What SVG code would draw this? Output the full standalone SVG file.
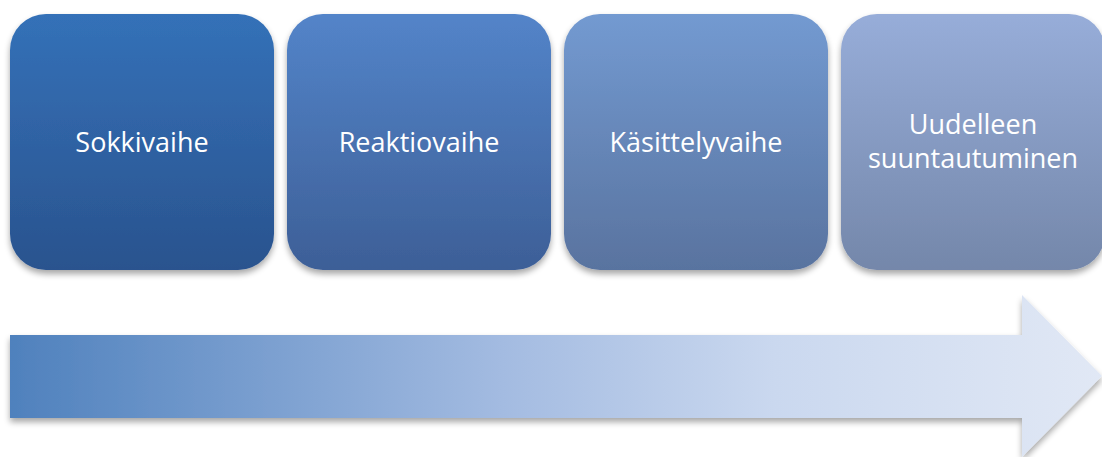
<svg xmlns="http://www.w3.org/2000/svg" width="1102" height="457" viewBox="0 0 1102 457">
<defs>
<filter id="sh" x="-10%" y="-10%" width="120%" height="125%">
<feGaussianBlur in="SourceAlpha" stdDeviation="3"/>
<feOffset dx="0" dy="4" result="b"/>
<feComponentTransfer><feFuncA type="linear" slope="0.35"/></feComponentTransfer>
<feMerge><feMergeNode/><feMergeNode in="SourceGraphic"/></feMerge>
</filter>
<linearGradient id="g1" x1="0" y1="0" x2="0" y2="1"><stop offset="0" stop-color="#3471b8"/><stop offset="1" stop-color="#2a538e"/></linearGradient>
<linearGradient id="g2" x1="0" y1="0" x2="0" y2="1"><stop offset="0" stop-color="#5384c9"/><stop offset="1" stop-color="#3d5f97"/></linearGradient>
<linearGradient id="g3" x1="0" y1="0" x2="0" y2="1"><stop offset="0" stop-color="#739ad1"/><stop offset="1" stop-color="#59739f"/></linearGradient>
<linearGradient id="g4" x1="0" y1="0" x2="0" y2="1"><stop offset="0" stop-color="#97add9"/><stop offset="1" stop-color="#7487aa"/></linearGradient>
<linearGradient id="ga" x1="10" y1="0" x2="1102" y2="0" gradientUnits="userSpaceOnUse"><stop offset="0" stop-color="#4f81bd"/><stop offset="0.45" stop-color="#a3bbe1"/><stop offset="0.7" stop-color="#cad8ef"/><stop offset="1" stop-color="#e1e8f5"/></linearGradient>
</defs>
<style>
.lbl{font-family:"Open Sans","Liberation Sans",sans-serif;font-size:27px;fill:#ffffff;text-anchor:middle}
</style>
<g id="arrow">
<polygon points="10,335 1022,335 1022,295 1102,376 1022,457 1022,418 10,418" fill="url(#ga)" filter="url(#sh)"/>
</g>
<g id="node1"><rect x="10" y="14" width="264" height="256" rx="36" fill="url(#g1)" filter="url(#sh)"/><text class="lbl" x="142" y="152">Sokkivaihe</text></g>
<g id="node2"><rect x="287" y="14" width="264" height="256" rx="36" fill="url(#g2)" filter="url(#sh)"/><text class="lbl" x="419" y="152">Reaktiovaihe</text></g>
<g id="node3"><rect x="564" y="14" width="264" height="256" rx="36" fill="url(#g3)" filter="url(#sh)"/><text class="lbl" x="696" y="152">Käsittelyvaihe</text></g>
<g id="node4"><rect x="841" y="14" width="264" height="256" rx="36" fill="url(#g4)" filter="url(#sh)"/><text class="lbl" x="973" y="134">Uudelleen</text><text class="lbl" x="973" y="168">suuntautuminen</text></g>
<g id="connectors"></g>
</svg>
